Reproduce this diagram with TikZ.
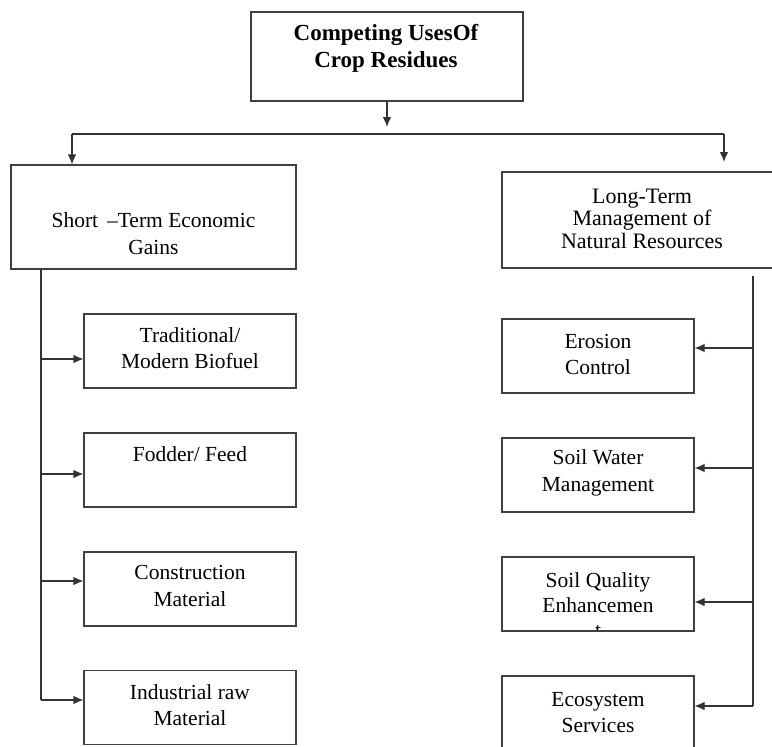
\documentclass[tikz,border=0pt]{standalone}
\usepackage{fontspec}
\setmainfont{Liberation Serif}
\usetikzlibrary{arrows.meta}
\begin{document}
\begin{tikzpicture}[x=1pt,y=-1pt,
  box/.style={draw=black!75,line width=1.1pt,inner sep=0pt},
  txt/.style={align=center,inner sep=0pt,font=\fontsize{21.5}{26.5}\selectfont},
  conn/.style={draw=black!80,line width=1.1pt},
  arr/.style={conn,-{Latex[length=10pt,width=8.5pt]}}]
\clip (0,0) rectangle (772,747);
\fill[white] (0,0) rectangle (772,747);

% top box
\node[box,minimum width=272pt,minimum height=89pt] (top) at (387,56.5) {};
\node[txt,font=\fontsize{23}{27}\selectfont\bfseries] (toptxt) at (386,48) {Competing UsesOf\\Crop Residues};

% main branches
\node[box,minimum width=285pt,minimum height=104pt] (lbox) at (153.5,217) {};
\node[txt] (ltxt) at (153.5,233.5) {Short \,–Term Economic\\Gains};
\node[box,minimum width=280pt,minimum height=96pt] (rbox) at (642,220) {};
\node[txt,font=\fontsize{22}{22.5}\selectfont] (rtxt) at (642,218.5) {Long-Term\\Management of\\Natural Resources};

% left children
\node[box,minimum width=212pt,minimum height=74pt] (b1) at (190,351) {};
\node[txt] (b1t) at (190,348) {Traditional/\\Modern Biofuel};
\node[box,minimum width=212pt,minimum height=74pt] (b2) at (190,470) {};
\node[txt] (b2t) at (190,454) {Fodder/ Feed};
\node[box,minimum width=212pt,minimum height=74pt] (b3) at (190,589) {};
\node[txt] (b3t) at (190,586) {Construction\\Material};
\node[box,minimum width=212pt,minimum height=74pt] (b4) at (190,707.5) {};
\node[txt] (b4t) at (190,705) {Industrial raw\\Material};

% right children
\node[box,minimum width=192pt,minimum height=74pt] (e1) at (598,356) {};
\node[txt] (e1t) at (598,354.5) {Erosion\\Control};
\node[box,minimum width=192pt,minimum height=74pt] (e2) at (598,475) {};
\node[txt] (e2t) at (598,473) {Soil Water\\Management};
\begin{scope}
  \clip (502,557) rectangle (694,631);
  \node[txt,font=\fontsize{21.5}{25}\selectfont] (e3t) at (598,605) {Soil Quality\\Enhancemen\\t};
\end{scope}
\node[box,minimum width=192pt,minimum height=74pt] (e3) at (598,594) {};
\node[box,minimum width=192pt,minimum height=80pt] (e4) at (598,716) {};
\node[txt] (e4t) at (598,712.5) {Ecosystem\\Services};

% connectors from top
\coordinate (topend) at (387,127);
\coordinate (hl) at (72,134);
\coordinate (hr) at (724,134);
\coordinate (rend) at (724,162);
\draw[arr] (top.south) -- (topend);
\draw[conn] (hl) -- (hr);
\draw[arr] (hl) -- (hl |- lbox.north);
\draw[arr] (hr) -- (rend);

% left spine
\coordinate (lsTop) at (41,269);
\coordinate (lsBot) at (41,700);
\draw[conn] (lsTop) -- (lsBot);
\coordinate (l1) at (41,359);
\coordinate (l2) at (41,474);
\coordinate (l3) at (41,581);
\coordinate (l4) at (41,700);
\draw[arr] (l1) -- (l1 -| b1.west);
\draw[arr] (l2) -- (l2 -| b2.west);
\draw[arr] (l3) -- (l3 -| b3.west);
\draw[arr] (l4) -- (l4 -| b4.west);

% right spine
\coordinate (rsTop) at (753,276);
\coordinate (rsBot) at (753,706);
\draw[conn] (rsTop) -- (rsBot);
\coordinate (r1) at (753,348);
\coordinate (r2) at (753,468);
\coordinate (r3) at (753,602);
\coordinate (r4) at (753,706);
\draw[arr] (r1) -- (r1 -| e1.east);
\draw[arr] (r2) -- (r2 -| e2.east);
\draw[arr] (r3) -- (r3 -| e3.east);
\draw[arr] (r4) -- (r4 -| e4.east);
\end{tikzpicture}
\end{document}
